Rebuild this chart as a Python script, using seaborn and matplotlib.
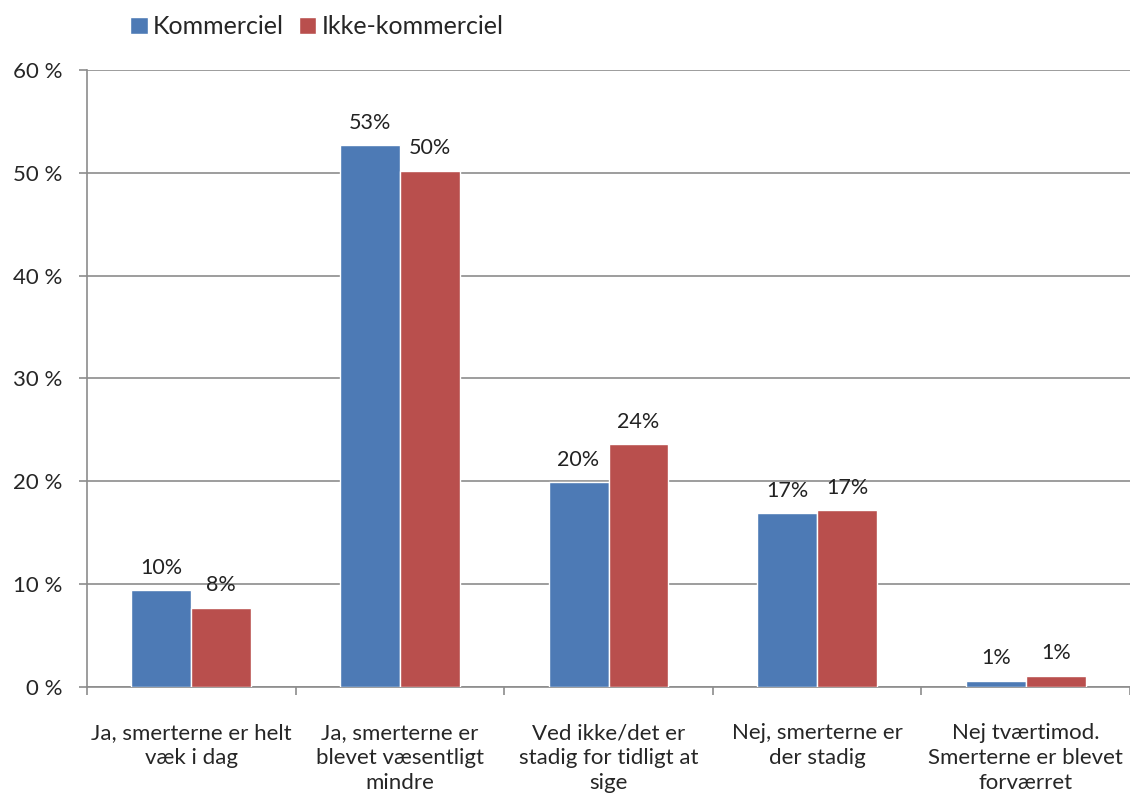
import pandas as pd
import matplotlib.pyplot as plt
import seaborn as sns
from matplotlib.ticker import FixedLocator

categories = [
    "Ja, smerterne er helt\nvæk i dag",
    "Ja, smerterne er\nblevet væsentligt\nmindre",
    "Ved ikke/det er\nstadig for tidligt at\nsige",
    "Nej, smerterne er\nder stadig",
    "Nej tværtimod.\nSmerterne er blevet\nforværret",
]
kommerciel = [9.4, 52.7, 19.9, 16.9, 0.6]
ikke_kommerciel = [7.7, 50.2, 23.6, 17.2, 1.1]
labels_k = ["10%", "53%", "20%", "17%", "1%"]
labels_i = ["8%", "50%", "24%", "17%", "1%"]
series = ["Kommerciel", "Ikke-kommerciel"]
colors = ["#4D7AB5", "#B94F4D"]

df = pd.DataFrame({
    "kategori": categories * 2,
    "andel": kommerciel + ikke_kommerciel,
    "type": [series[0]] * 5 + [series[1]] * 5,
})

sns.set_style("white")
plt.rcParams["font.family"] = ["Lato", "DejaVu Sans"]

fig = plt.figure(figsize=(11.3, 7.94), dpi=100)
ax = fig.add_axes([0.077, 0.1348, 0.923, 0.777])

sns.barplot(data=df, x="kategori", y="andel", hue="type", palette=colors,
            width=0.575, saturation=1, ax=ax, zorder=3)

# data labels
for cont, labs in zip(ax.containers, [labels_k, labels_i]):
    ax.bar_label(cont, labels=labs, padding=9, fontsize=15.5, color="#222222")

ax.set_ylim(0, 60)
ax.set_xlim(-0.5, 4.5)
ax.set_yticks(range(0, 61, 10))
ax.set_yticklabels([f"{v} %" for v in range(0, 61, 10)], fontsize=16)
ax.yaxis.grid(True, color="#8C8C8C", linewidth=1.2, zorder=0)
ax.set_xticks(range(5))
ax.set_xticklabels(categories, fontsize=16, linespacing=1.32)
ax.xaxis.set_minor_locator(FixedLocator([-0.5, 0.5, 1.5, 2.5, 3.5, 4.5]))
ax.tick_params(axis="x", which="major", length=0, pad=26)
ax.tick_params(axis="x", which="minor", length=6, color="#8C8C8C", width=1.2, direction="out", bottom=True)
ax.tick_params(axis="y", length=6, color="#8C8C8C", width=1.2, direction="out", left=True, pad=12)
ax.set_xlabel("")
ax.set_ylabel("")
for s in ["top", "right"]:
    ax.spines[s].set_visible(False)
for s in ["left", "bottom"]:
    ax.spines[s].set_color("#8C8C8C")
    ax.spines[s].set_linewidth(1.2)

ax.legend(loc="upper left", bbox_to_anchor=(0.02, 1.125), ncol=2, frameon=False,
          fontsize=18, handlelength=0.7, handleheight=0.7, handletextpad=0.2,
          columnspacing=0.6)

fig.savefig("out.png", dpi=100)
